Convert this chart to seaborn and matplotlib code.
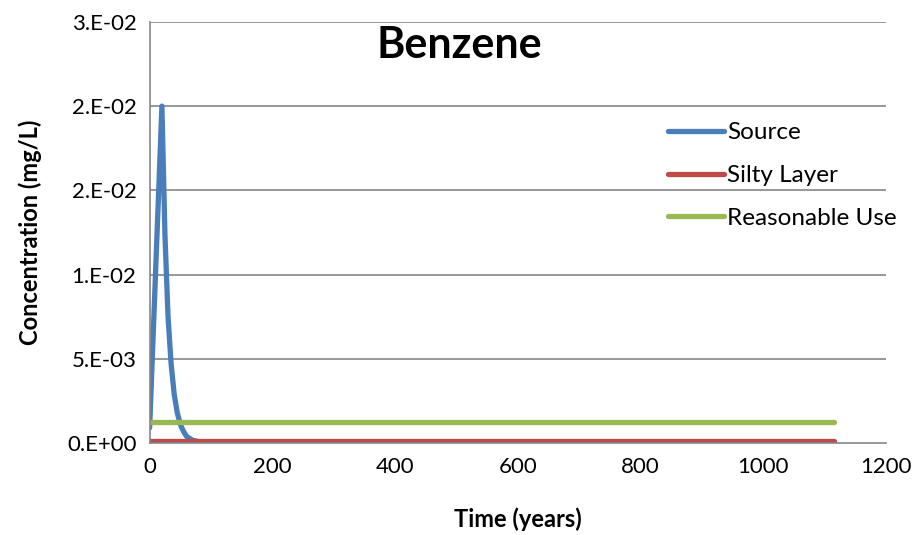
import pandas as pd
import seaborn as sns
import matplotlib.pyplot as plt

# Benzene concentration vs time
src_time = [0, 20, 25, 30, 35, 40, 45, 50, 55, 60, 70, 80, 90, 100, 200, 400, 600, 800, 1000, 1115]
src_conc = [0.0009, 0.02, 0.0123, 0.0075, 0.0047, 0.0029, 0.0018, 0.0011, 0.0007, 0.0004, 0.00016, 0.00008, 0.00005, 0.00003,
            0.00002, 0.00002, 0.00002, 0.00002, 0.00002, 0.00002]
silty_time = [0, 1115]
silty_conc = [0.0001, 0.0001]
use_time = [0, 1115]
use_conc = [0.00125, 0.00125]

yticks = [0, 0.005, 0.01, 0.015, 0.02, 0.025]
ytick_labels = ['0.E+00', '5.E-03', '1.E-02', '2.E-02', '2.E-02', '3.E-02']
xticks = [0, 200, 400, 600, 800, 1000, 1200]

sns.set_style("white")
plt.rcParams['font.family'] = ['Lato', 'DejaVu Sans']
plt.rcParams['text.color'] = 'black'
plt.rcParams['axes.labelcolor'] = 'black'
plt.rcParams['xtick.color'] = 'black'
plt.rcParams['ytick.color'] = 'black'

fig = plt.figure(figsize=(9.18, 5.35), dpi=100)
ax = fig.add_axes([0.163, 0.172, 0.802, 0.787])

for y in yticks[1:]:
    ax.axhline(y, color='#868686', lw=1.2, zorder=0)

sns.lineplot(x=src_time, y=src_conc, ax=ax, color='#4A7EBB', lw=3.8, label='Source',
             solid_capstyle='round', solid_joinstyle='round')
sns.lineplot(x=silty_time, y=silty_conc, ax=ax, color='#BE4B48', lw=3.8, label='Silty Layer',
             solid_capstyle='round')
sns.lineplot(x=use_time, y=use_conc, ax=ax, color='#98B954', lw=3.8, label='Reasonable Use',
             solid_capstyle='round')

ax.set_xlim(0, 1200)
ax.set_ylim(0, 0.025)
ax.set_xticks(xticks)
ax.set_yticks(yticks)
ax.set_yticklabels(ytick_labels)
ax.tick_params(axis='both', labelsize=16, length=6, color='#868686', width=1.2, direction='out')
ax.tick_params(axis='x', pad=4)
for s in ['top', 'right']:
    ax.spines[s].set_visible(False)
for s in ['left', 'bottom']:
    ax.spines[s].set_color('#868686')
    ax.spines[s].set_linewidth(1.2)

ax.set_xlabel('Time (years)', fontsize=17, fontweight='bold', labelpad=22)
ax.set_ylabel('Concentration (mg/L)', fontsize=17, fontweight='bold', labelpad=18)
ax.text(0.42, 0.945, 'Benzene', transform=ax.transAxes, fontsize=31, fontweight='bold',
        ha='center', va='center')

ax.legend(loc='upper left', bbox_to_anchor=(0.674, 0.814), frameon=False, fontsize=17.5,
          handlelength=2.3, handletextpad=0.15, labelspacing=0.9)

plt.savefig('out.png', dpi=100)
